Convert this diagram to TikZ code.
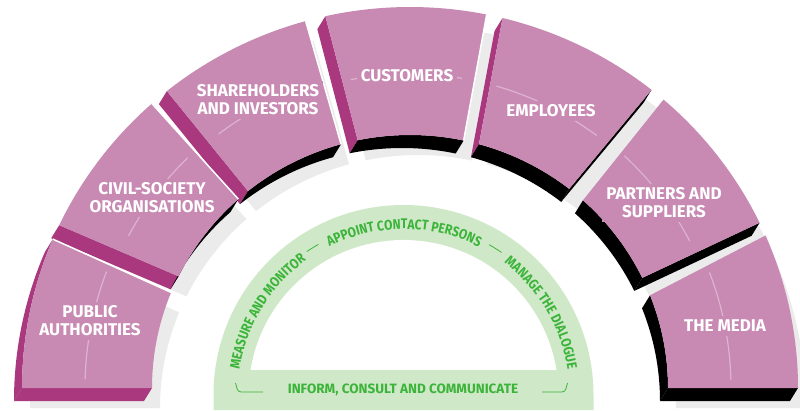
\documentclass[tikz,border=0pt]{standalone}
\usepackage{fontspec}
\setmainfont{Fira Sans}
\newfontfamily\arcfamily{Fira Sans}[FakeStretch=0.86]
\usetikzlibrary{calc,decorations.text}

\newcommand{\facepath}[5]{($(C)+(#1:388pt and 381pt)+(#5)$) arc[start angle=#1, end angle=#3, x radius=388pt, y radius=381pt] -- ($(C)+(#4:258pt and 253pt)+(#5)$) arc[start angle=#4, end angle=#2, x radius=258pt, y radius=253pt] -- cycle}
\newcommand{\outerside}[2]{($(C)+(#1:388pt and 381pt)$) arc[start angle=#1, end angle=#2, x radius=388pt, y radius=381pt] -- ++(-8,-13) arc[start angle=#2, end angle=#1, x radius=388pt, y radius=381pt] -- cycle}
\newcommand{\innerside}[2]{($(C)+(#1:258pt and 253pt)$) arc[start angle=#1, end angle=#2, x radius=258pt, y radius=253pt] -- ++(-8,-13) arc[start angle=#2, end angle=#1, x radius=258pt, y radius=253pt] -- cycle}
\newcommand{\radside}[2]{($(C)+(#1:258pt and 253pt)$) -- ($(C)+(#2:388pt and 381pt)$) -- ++(-8,-13) -- ($(C)+(#1:258pt and 253pt)+(-8,-13)$) -- cycle}
\newcommand{\cwline}[2]{($(C)+(#1:258pt and 253pt)$) -- ($(C)+(#2:388pt and 381pt)$)}
\newcommand{\greenfont}{\fontsize{13.5}{14}\selectfont\bfseries}
\newcommand{\arcfont}{\arcfamily\fontsize{14}{14}\selectfont\bfseries}

\begin{document}
\begin{tikzpicture}[x=1pt, y=1pt,
  front/.style={fill=segpink},
  magside/.style={fill=segmag},
  blackside/.style={fill=black},
  shadow/.style={fill=shadowgray},
  cwedge/.style={draw=white, line width=1.5pt},
  faint/.style={draw=faintpink, line width=1.2pt},
  seglabel/.style={text=white, font=\fontsize{17}{18}\selectfont\bfseries, align=center, fill=segpink, inner sep=4pt},
  greenlabel/.style={text=greentext, font=\greenfont, inner sep=1pt},
  greenline/.style={draw=greentext, line width=0.8pt},
  arctext/.style={decorate, decoration={text along path, text={|\arcfont|#1}, text align=center, text color=greentext}}]
\definecolor{segpink}{HTML}{C88AB3}
\definecolor{segmag}{HTML}{A9387F}
\definecolor{faintpink}{HTML}{DDB3CE}
\definecolor{shadowgray}{HTML}{EBEBEB}
\definecolor{greenfill}{HTML}{CFE8C8}
\definecolor{greentext}{HTML}{3CB43A}
\useasboundingbox (0,0) rectangle (800,410);
\fill[white] (0,0) rectangle (800,410);
\coordinate (C) at (410,22);
\coordinate (G) at (403.5,15);

% shadows
\fill[shadow] \facepath{157.0}{157.8}{180}{180}{8,-20};
\fill[shadow] \facepath{131.7}{131.7}{154.7}{153.8}{8,-20};
\fill[shadow] \facepath{105.6}{105.5}{128.8}{128.9}{8,-20};
\fill[shadow] \facepath{78.6}{78.0}{102.6}{101.7}{8,-20};
\fill[shadow] \facepath{51.5}{51.9}{76.2}{74.5}{8,-20};
\fill[shadow] \facepath{25.7}{25.8}{49.2}{47.9}{8,-20};
\fill[shadow] \facepath{0}{0}{23.6}{21.5}{8,-20};

% dialogue arch
\fill[greenfill] (213.5,0) -- ($(G)+(180:190pt)$) arc[start angle=180, end angle=0, radius=190pt] -- (593.5,0) -- cycle;
\fill[white] ($(G)+(170.7:155pt)$) arc[start angle=170.7, end angle=9.3, radius=155pt] -- cycle;
\path[arctext={MEASURE AND MONITOR}] ($(G)+(172:166pt)$) arc[start angle=172, end angle=125, radius=166pt];
\path[arctext={APPOINT CONTACT PERSONS}] ($(G)+(118.5:166pt)$) arc[start angle=118.5, end angle=61, radius=166pt];
\path[arctext={MANAGE THE DIALOGUE}] ($(G)+(55:166pt)$) arc[start angle=55, end angle=6.5, radius=166pt];
\draw[greenline] ($(G)+(124:173pt)$) arc[start angle=124, end angle=119.5, radius=173pt];
\draw[greenline] ($(G)+(60.3:173pt)$) arc[start angle=60.3, end angle=55.5, radius=173pt];
\node[greenlabel] (icc) at (403,20) {INFORM, CONSULT AND COMMUNICATE};
\draw[greenline, rounded corners=3pt] (235.5,27) -- (238,18) -- (263,18);
\draw[greenline, rounded corners=3pt] (542,18) -- (565,18) -- (567.5,27);

% the media
\fill[blackside] \innerside{0}{21.5};
\fill[blackside] \radside{0}{0};
\fill[front] \facepath{0}{0}{23.6}{21.5}{0,0};
% partners and suppliers
\fill[blackside] \innerside{25.8}{47.9};
\fill[blackside] \radside{25.8}{25.7};
\fill[front] \facepath{25.7}{25.8}{49.2}{47.9}{0,0};
% employees
\fill[magside] \radside{74.5}{76.2};
\fill[blackside] \innerside{51.9}{74.5};
\fill[blackside] \radside{51.9}{51.5};
\fill[front] \facepath{51.5}{51.9}{76.2}{74.5}{0,0};
% customers
\fill[magside] \radside{101.7}{102.6};
\fill[blackside] \innerside{78.0}{101.7};
\fill[front] \facepath{78.6}{78.0}{102.6}{101.7}{0,0};
\draw[cwedge] \cwline{78.0}{78.6};
% shareholders and investors
\fill[magside] \radside{128.9}{128.8};
\fill[blackside] \innerside{105.5}{128.9};
\fill[front] \facepath{105.6}{105.5}{128.8}{128.9}{0,0};
\draw[cwedge] \cwline{105.5}{105.6};
% civil-society organisations
\fill[magside] \radside{153.8}{154.7};
\fill[blackside] \innerside{131.7}{153.8};
\fill[front] \facepath{131.7}{131.7}{154.7}{153.8}{0,0};
\draw[cwedge] \cwline{131.7}{131.7};
% public authorities
\fill[magside] \outerside{157.0}{180};
\fill[magside] \radside{180}{180};
\fill[front] \facepath{157.0}{157.8}{180}{180}{0,0};
\draw[cwedge] \cwline{157.8}{157.0};

% faint guide arcs
\draw[faint] ($(C)+(159:325pt)$) arc[start angle=159, end angle=178.5, radius=325pt];
\draw[faint] ($(C)+(134:320pt)$) arc[start angle=134, end angle=151.6, radius=320pt];
\draw[faint] ($(C)+(127:318pt)$) arc[start angle=127, end angle=114, radius=318pt];
\draw[faint] ($(C)+(100.9:314pt)$) arc[start angle=100.9, end angle=80.5, radius=314pt];
\draw[faint] ($(C)+(74:314pt)$) arc[start angle=74, end angle=53.5, radius=314pt];
\draw[faint] ($(C)+(47.3:316pt)$) arc[start angle=47.3, end angle=27.7, radius=316pt];
\draw[faint] ($(C)+(21.1:321pt)$) arc[start angle=21.1, end angle=1.4, radius=321pt];

% stakeholder labels
\node[seglabel] (pa) at (90,89) {PUBLIC\\AUTHORITIES};
\node[seglabel] (cso) at (152,212) {CIVIL-SOCIETY\\ORGANISATIONS};
\node[seglabel] (sai) at (258,310) {SHAREHOLDERS\\AND INVESTORS};
\node[seglabel] (cus) at (407,334) {CUSTOMERS};
\node[seglabel] (emp) at (551,299) {EMPLOYEES};
\node[seglabel] (pas) at (664,207) {PARTNERS AND\\SUPPLIERS};
\node[seglabel] (med) at (725,84) {THE MEDIA};
\end{tikzpicture}
\end{document}
